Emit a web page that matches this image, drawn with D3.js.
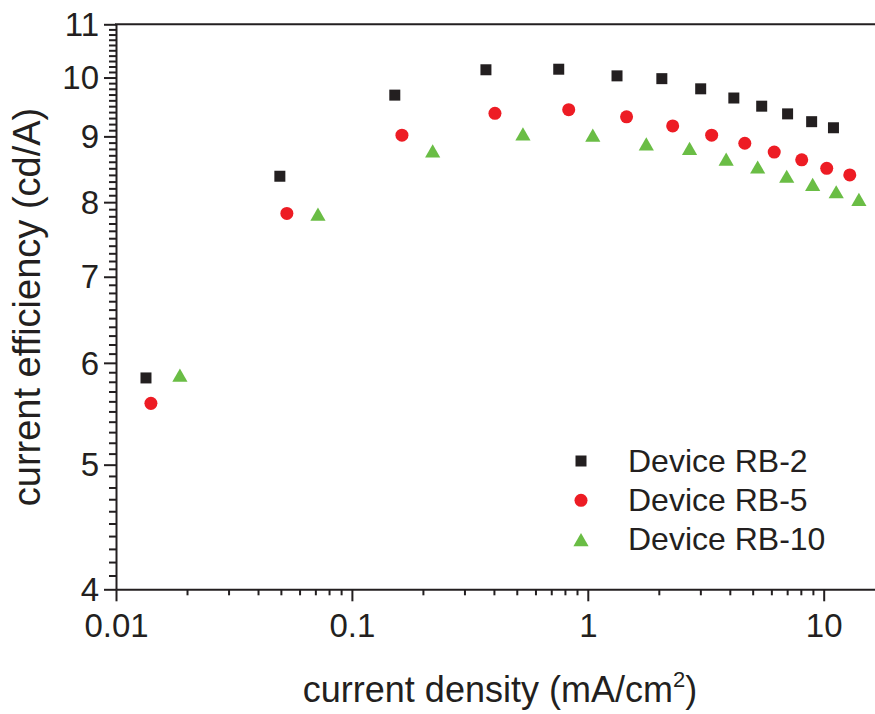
<!DOCTYPE html>
<html>
<head>
<meta charset="utf-8">
<script src="https://cdn.jsdelivr.net/npm/d3@7"></script>
<style>
  body { margin: 0; background: #fff; }
  svg { display: block; font-family: "Liberation Sans", Arial, sans-serif; }
</style>
</head>
<body>
<div id="chart"></div>
<script>
// current density (mA/cm2) and current efficiency (cd/A)
const rb2Density = [0.0134, 0.0495, 0.152, 0.370, 0.753, 1.33, 2.06, 3.01, 4.16, 5.46, 7.03, 8.89, 11.0];
const rb2Eff     = [5.84, 8.38, 9.69, 10.14, 10.15, 10.03, 9.98, 9.80, 9.64, 9.50, 9.37, 9.24, 9.14];

const rb5Density = [0.01406, 0.0530, 0.163, 0.404, 0.830, 1.46, 2.29, 3.35, 4.63, 6.17, 8.07, 10.3, 12.9];
const rb5Eff     = [5.58, 7.84, 9.02, 9.38, 9.44, 9.32, 9.17, 9.02, 8.89, 8.75, 8.63, 8.50, 8.40];

const rb10Density = [0.01866, 0.0718, 0.220, 0.531, 1.05, 1.77, 2.70, 3.86, 5.25, 6.97, 8.98, 11.3, 14.1];
const rb10Eff     = [5.87, 7.83, 8.77, 9.04, 9.02, 8.88, 8.81, 8.64, 8.52, 8.38, 8.26, 8.15, 8.04];

const seriesNames = ["Device RB-2", "Device RB-5", "Device RB-10"];
const xTickValues = [0.01, 0.1, 1, 10];
const yTickValues = [4, 5, 6, 7, 8, 9, 10, 11];

const width = 875;
const height = 714;

const svg = d3.select("#chart").append("svg")
  .attr("width", width)
  .attr("height", height);

const x = d3.scaleLog().domain([0.01, 16.5]).range([116, 875]);
const y = d3.scaleLog().domain([4, 11]).range([589.3, 24.3]);

const series = [
  {name: seriesNames[0], xs: rb2Density, ys: rb2Eff, shape: d3.symbolSquare, size: 121, colour: "#231f20"},
  {name: seriesNames[1], xs: rb5Density, ys: rb5Eff, shape: d3.symbolCircle, size: 133, colour: "#ed1c24"},
  {name: seriesNames[2], xs: rb10Density, ys: rb10Eff, shape: d3.symbolTriangle, size: 100, colour: "#6abd45"}
];

// triangle: shift so its bounding box is centred on the point
function shapeOffset(s) {
  if (s.shape !== d3.symbolTriangle) return 0;
  return Math.sqrt(s.size / (Math.sqrt(3) * 3)) / 2;
}

// minor ticks
const xMinor = [];
for (const dec of [0.01, 0.1, 1, 10]) {
  for (let k = 2; k <= 9; k++) if (dec * k <= 16.5) xMinor.push(dec * k);
}
const yMinor = [];
for (let v = 40; v <= 110; v++) if (v % 10 !== 0) yMinor.push(v / 10);

const gx = svg.append("g").attr("transform", `translate(0,${y.range()[0]})`);
gx.call(d3.axisBottom(x).tickValues(xMinor).tickSize(6).tickFormat(""));
gx.call(g => g.select(".domain").remove());
const gxMajor = svg.append("g").attr("transform", `translate(0,${y.range()[0]})`)
  .call(d3.axisBottom(x).tickValues(xTickValues).tickSize(12).tickSizeOuter(0)
    .tickFormat(d => d >= 1 ? d3.format("d")(d) : String(d)));

const gy = svg.append("g").attr("transform", `translate(${x.range()[0]},0)`);
gy.call(d3.axisLeft(y).tickValues(yMinor).tickSize(7).tickFormat(""));
gy.call(g => g.select(".domain").remove());
const gyMajor = svg.append("g").attr("transform", `translate(${x.range()[0]},0)`)
  .call(d3.axisLeft(y).tickValues(yTickValues).tickSize(12).tickSizeOuter(0).tickFormat(d3.format("d")));

svg.selectAll(".domain").attr("stroke", "#231f20").attr("stroke-width", 2);
svg.selectAll(".tick line").attr("stroke", "#231f20").attr("stroke-width", 2);

gxMajor.selectAll(".tick text")
  .attr("font-size", 33).attr("fill", "#231f20").attr("dy", "0.71em").attr("y", 24)
  .attr("font-family", "Liberation Sans, Arial, sans-serif");
gyMajor.selectAll(".tick text")
  .attr("font-size", 33).attr("fill", "#231f20").attr("x", -17).attr("dy", "0.34em")
  .attr("font-family", "Liberation Sans, Arial, sans-serif");

// top frame line
svg.append("line")
  .attr("x1", x.range()[0] - 1).attr("x2", width)
  .attr("y1", y.range()[1]).attr("y2", y.range()[1])
  .attr("stroke", "#231f20").attr("stroke-width", 2);

// points
for (const s of series) {
  const pts = s.xs.map((v, i) => [v, s.ys[i]]);
  svg.append("g").selectAll("path")
    .data(pts)
    .join("path")
    .attr("d", d3.symbol(s.shape, s.size))
    .attr("transform", d => `translate(${x(d[0])},${y(d[1]) + shapeOffset(s)})`)
    .attr("fill", s.colour);
}

// legend
const legend = svg.append("g").attr("transform", "translate(581,461)");
series.forEach((s, i) => {
  const row = legend.append("g").attr("transform", `translate(0,${i * 39.3})`);
  row.append("path")
    .attr("d", d3.symbol(s.shape, s.size)())
    .attr("transform", `translate(0,${shapeOffset(s)})`)
    .attr("fill", s.colour);
  row.append("text")
    .attr("x", 47).attr("y", 0).attr("dy", "0.33em")
    .attr("font-size", 32).attr("fill", "#231f20")
    .text(s.name);
});

// axis titles
const xTitle = svg.append("text")
  .attr("x", 500).attr("y", 702)
  .attr("text-anchor", "middle")
  .attr("font-size", 36).attr("fill", "#231f20");
xTitle.append("tspan").text("current density (mA/cm");
xTitle.append("tspan").attr("font-size", 22).attr("dy", -15).text("2");
xTitle.append("tspan").attr("dy", 15).text(")");

svg.append("text")
  .attr("transform", "translate(40,307) rotate(-90)")
  .attr("text-anchor", "middle")
  .attr("font-size", 38).attr("fill", "#231f20")
  .text("current efficiency (cd/A)");
</script>
</body>
</html>
